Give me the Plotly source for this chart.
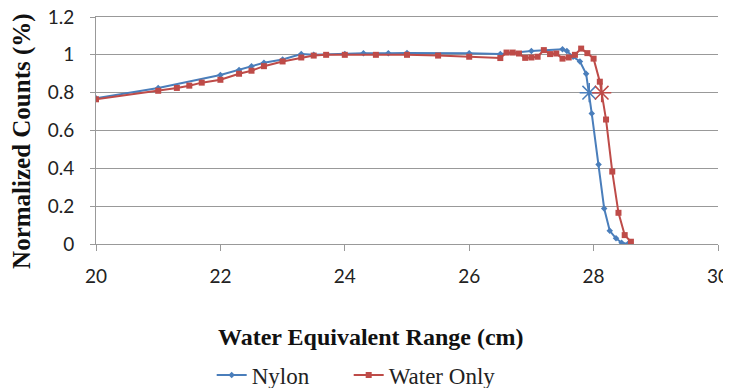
import plotly.graph_objects as go

nylon_x = [20, 21, 22, 22.3, 22.5, 22.7, 23, 23.3, 23.5, 24, 24.3, 24.7, 25, 26, 26.5, 27, 27.5, 27.57,
           27.67, 27.78, 27.88, 27.97, 28.08, 28.17, 28.26, 28.36, 28.45, 28.55]
nylon_y = [0.77, 0.825, 0.893, 0.92, 0.94, 0.958, 0.975, 1.004, 1.0, 1.005, 1.009, 1.009, 1.01, 1.009, 1.004, 1.02, 1.03, 1.02,
           0.99, 0.965, 0.90, 0.69, 0.42, 0.188, 0.07, 0.03, 0.007, 0.0]

water_x = [20, 21, 21.3, 21.5, 21.7, 22, 22.3, 22.5, 22.7, 23, 23.3, 23.5, 23.7, 24, 24.5, 25, 25.5, 26, 26.5,
           26.6, 26.7, 26.8, 26.9, 27.0, 27.1, 27.2, 27.3, 27.4, 27.5, 27.6, 27.7, 27.8, 27.9, 28.0,
           28.1, 28.2, 28.3, 28.4, 28.5, 28.6]
water_y = [0.765, 0.81, 0.825, 0.837, 0.853, 0.868, 0.90, 0.916, 0.94, 0.965, 0.986, 0.996, 1.0, 1.0, 1.0, 1.0, 0.996, 0.99, 0.983,
           1.012, 1.012, 1.007, 0.984, 0.986, 0.99, 1.025, 1.004, 1.007, 0.98, 0.986, 1.0, 1.033, 1.009, 0.98,
           0.858, 0.658, 0.383, 0.165, 0.047, 0.012]

star_x = [27.93, 28.13]
star_y = [0.8, 0.8]

y_ticks = [0, 0.2, 0.4, 0.6, 0.8, 1.0, 1.2]
y_tick_labels = ["0", "0.2", "0.4", "0.6", "0.8", "1", "1.2"]
x_ticks = [20, 22, 24, 26, 28, 30]

x_title = "<b>Water Equivalent Range (cm)</b>"
y_title = "<b>Normalized Counts (%)</b>"

BLUE = "#4a7ebb"
RED = "#be4b48"

fig = go.Figure()
fig.add_trace(go.Scatter(x=nylon_x, y=nylon_y, mode="lines+markers", name="Nylon",
                         line=dict(color=BLUE, width=2), legendwidth=92,
                         marker=dict(symbol="diamond", size=5, color=BLUE)))
fig.add_trace(go.Scatter(x=water_x, y=water_y, mode="lines+markers", name="Water Only",
                         line=dict(color=RED, width=2),
                         marker=dict(symbol="square", size=6, color=RED)))
fig.add_trace(go.Scatter(x=[star_x[0]], y=[star_y[0]], mode="markers", showlegend=False,
                         marker=dict(symbol="asterisk-open", size=16, color=BLUE,
                                     line=dict(color=BLUE, width=1.5))))
fig.add_trace(go.Scatter(x=[star_x[1]], y=[star_y[1]], mode="markers", showlegend=False,
                         marker=dict(symbol="asterisk-open", size=16, color=RED,
                                     line=dict(color=RED, width=1.5))))

# page body has an 8px default margin, so the figure is slightly smaller and offset
fig.update_layout(
    width=723, height=380,
    margin=dict(l=88, r=13, t=9, b=144, autoexpand=False),
    paper_bgcolor="white", plot_bgcolor="white",
    font=dict(family="Lato", size=19, color="#222"),
    legend=dict(orientation="h", x=0.186, xanchor="left", y=-0.577, yanchor="middle",
                font=dict(family="Liberation Serif", size=23, color="#222"),
                tracegroupgap=0),
    showlegend=True,
    annotations=[
        dict(text=x_title, xref="paper", yref="paper", x=0.442, y=-0.41,
             xanchor="center", yanchor="middle", showarrow=False,
             font=dict(family="Liberation Serif", size=24, color="#111")),
        dict(text=y_title, xref="paper", yref="paper", x=-0.119, y=0.454, textangle=-90,
             xanchor="center", yanchor="middle", showarrow=False,
             font=dict(family="Liberation Serif", size=25, color="#111")),
    ],
)
fig.update_xaxes(range=[20, 30], tickvals=x_ticks, showgrid=False, automargin=False,
                 showline=True, mirror=True, linecolor="#999", linewidth=1, ticklabeloverflow="allow",
                 ticks="outside", tickcolor="#999", ticklen=6, ticklabelstandoff=9,
                 zeroline=False)
fig.update_yaxes(range=[0, 1.2], tickvals=y_ticks, ticktext=y_tick_labels,
                 showgrid=True, gridcolor="#999", gridwidth=1, ticklabeloverflow="allow",
                 showline=True, linecolor="#999", linewidth=1, automargin=False,
                 ticks="outside", tickcolor="#999", ticklen=5, ticklabelstandoff=12,
                 zeroline=False)

fig.write_html("out.html")
